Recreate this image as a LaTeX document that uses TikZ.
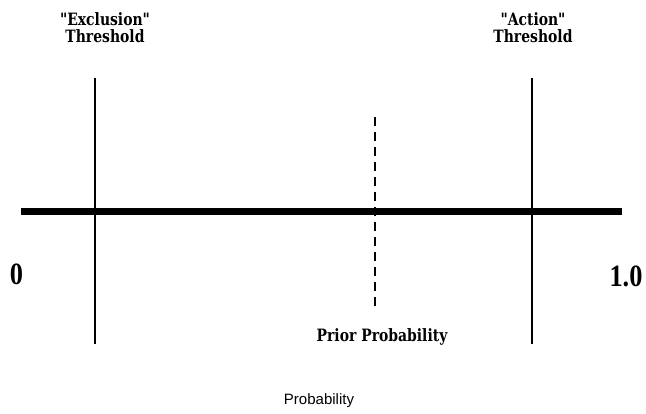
\documentclass[tikz,border=0pt]{standalone}
\usepackage{fontspec}
\setmainfont{Liberation Serif}
\newfontfamily\slabfont{DejaVu Serif}[FakeStretch=0.82]
\newfontfamily\helvfont{Liberation Sans}
\begin{document}
\begin{tikzpicture}[x=1pt,y=-1pt,
  lbl/.style={font=\slabfont\bfseries\fontsize{17}{17}\selectfont, align=center, inner sep=0pt, anchor=base},
  endlbl/.style={font=\bfseries\fontsize{31}{33}\selectfont, inner sep=0pt, anchor=base},
  thin/.style={line width=1.8pt},
  thick/.style={line width=7pt}]
\useasboundingbox (0,0) rectangle (646,414);
\coordinate (axL) at (21,211.5);
\coordinate (axR) at (622,211.5);
\draw[thick] (axL) -- (axR);
\coordinate (exT) at (95,78);
\coordinate (exB) at (95,344);
\draw[thin] (exT) -- (exB);
\coordinate (acT) at (532,78);
\coordinate (acB) at (532,344);
\draw[thin] (acT) -- (acB);
\coordinate (prT) at (375,117);
\coordinate (prB) at (375,308);
\draw[thin, dash pattern=on 9pt off 6pt] (prT) -- (prB);
\node[lbl] (exl) at (105,26) {"Exclusion"};
\node[lbl] (exl2) at (105,43) {Threshold};
\node[lbl] (acl) at (533,26) {"Action"};
\node[lbl] (acl2) at (533,43) {Threshold};
\node[lbl] (prl) at (382,342) {Prior Probability};
\node[endlbl] (zero) at (16.5,285) {\scalebox{0.85}[1]{0}};
\node[endlbl] (one) at (626,287) {\scalebox{0.85}[1]{1.0}};
\node[font=\helvfont\fontsize{15}{18}\selectfont, inner sep=0pt, anchor=base] (prob) at (319,404) {Probability};
\end{tikzpicture}
\end{document}
